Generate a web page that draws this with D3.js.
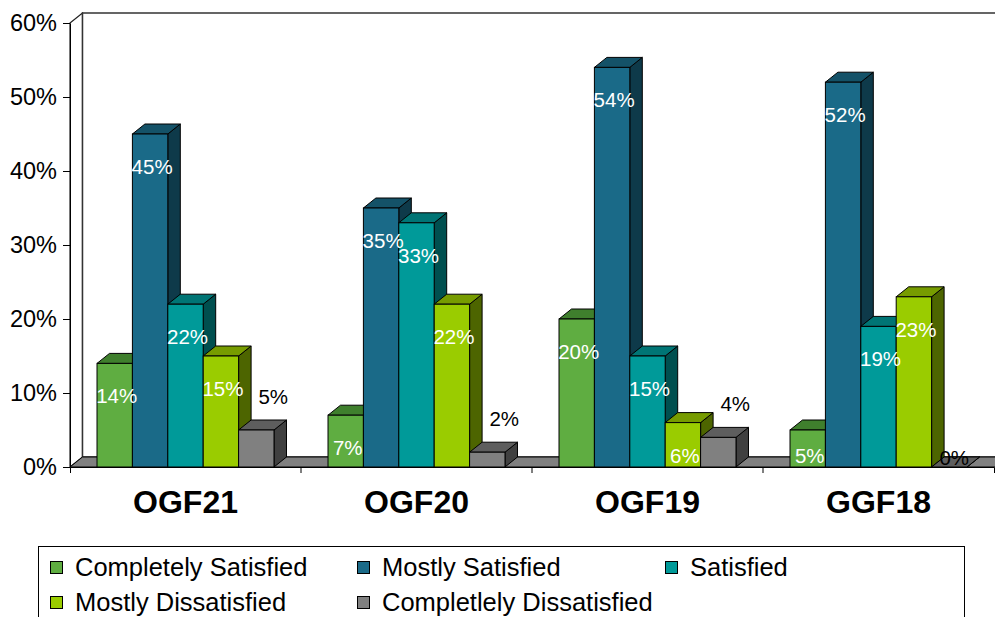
<!DOCTYPE html>
<html>
<head>
<meta charset="utf-8">
<script src="https://cdn.jsdelivr.net/npm/d3@7"></script>
<style>
  body { margin: 0; background: #fff; }
  svg { display: block; font-family: "Liberation Sans", Arial, sans-serif; }
</style>
</head>
<body>
<svg id="chart" width="995" height="617"></svg>
<script>
//Chart data, values in percent
const categories = ["OGF21", "OGF20", "OGF19", "GGF18"];
const seriesNames = ["Completely Satisfied", "Mostly Satisfied", "Satisfied", "Mostly Dissatisfied", "Completlely Dissatisfied"];
const completelySatisfied = [14, 7, 20, 5];
const mostlySatisfied = [45, 35, 54, 52];
const satisfied = [22, 33, 15, 19];
const mostlyDissatisfied = [15, 22, 6, 23];
const completelyDissatisfied = [5, 2, 4, 0];
const yTicks = [0, 10, 20, 30, 40, 50, 60];

const seriesValues = [completelySatisfied, mostlySatisfied, satisfied, mostlyDissatisfied, completelyDissatisfied];

//Colors per series: front face, top face, side face
const frontColors = ["#5fad41", "#1a6a88", "#009a99", "#9acc00", "#808080"];
const topColors = ["#3f7f2d", "#145268", "#007575", "#779c00", "#5e5e5e"];
const sideColors = ["#2f5f22", "#0e3a4a", "#004f4f", "#4d6500", "#404040"];

//3D depth offset
const DX = 12.5, DY = -10;

const svg = d3.select("#chart");

const x0 = d3.scaleBand()
    .domain(categories)
    .range([70, 994]);

const x1 = d3.scaleBand()
    .domain(d3.range(seriesNames.length))
    .range([0, x0.bandwidth()])
    .paddingInner(0)
    .paddingOuter(0.763);

const y = d3.scaleLinear()
    .domain([0, 60])
    .range([467, 23]);

const y0 = y(0), yTop = y(60);
const xL = x0.range()[0], xR = x0.range()[1];

//Walls (side wall + back wall)
svg.append("polygon")
    .attr("points", [[xL, yTop], [xL + DX, yTop + DY], [xL + DX, y0 + DY], [xL, y0]].join(" "))
    .attr("fill", "#fff")
    .attr("stroke", "#222")
    .attr("stroke-width", 1.2);

svg.append("rect")
    .attr("x", xL + DX)
    .attr("y", yTop + DY)
    .attr("width", xR - xL + 20)
    .attr("height", y0 - yTop)
    .attr("fill", "#fff")
    .attr("stroke", "#333")
    .attr("stroke-width", 1.5);

//Floor
svg.append("polygon")
    .attr("points", [[xL, y0], [xR + 20, y0], [xR + 20 + DX, y0 + DY], [xL + DX, y0 + DY]].join(" "))
    .attr("fill", "#808080")
    .attr("stroke", "#000");

//Build bars list from the series arrays
var bars = [];
categories.forEach(function(c, ci) {
    seriesValues.forEach(function(vals, si) {
        bars.push({cat: c, s: si, v: vals[ci]});
    });
});

var barG = svg.append("g");
bars.forEach(function(d) {
    const bx = x0(d.cat) + x1(d.s);
    const w = x1.bandwidth();
    const yt = y(d.v);
    const g = barG.append("g");

    //side face
    g.append("polygon")
        .attr("points", [[bx + w, yt], [bx + w + DX, yt + DY], [bx + w + DX, y0 + DY], [bx + w, y0]].join(" "))
        .attr("fill", sideColors[d.s])
        .attr("stroke", "#000");
    //top face
    g.append("polygon")
        .attr("points", [[bx, yt], [bx + w, yt], [bx + w + DX, yt + DY], [bx + DX, yt + DY]].join(" "))
        .attr("fill", topColors[d.s])
        .attr("stroke", "#000");
    //front face
    g.append("rect")
        .attr("x", bx)
        .attr("y", yt)
        .attr("width", w)
        .attr("height", y0 - yt)
        .attr("fill", frontColors[d.s])
        .attr("stroke", "#000");
});

//Value labels
svg.append("g").selectAll("text")
    .data(bars)
    .enter().append("text")
    .attr("text-anchor", "middle")
    .attr("font-size", 20.5)
    .attr("fill", function(d) { return d.s == 4 ? "#000" : "#fff"; })
    .attr("x", function(d) {
        const cx = x0(d.cat) + x1(d.s) + x1.bandwidth() / 2;
        if (d.s == 4) return cx + (d.v > 0 ? 17 : 5);
        return cx + 2;
    })
    .attr("y", function(d) {
        const yt = y(d.v);
        if (d.s == 4) return (d.v > 0 ? yt - 33 : y0 - 9) + 7;
        return Math.min(yt + 33, y0 - 11) + 7;
    })
    .text(function(d) { return d.v + "%"; });

//Y axis
var yAxis = svg.append("g")
    .attr("transform", "translate(" + xL + ",0)")
    .call(d3.axisLeft(y)
        .tickValues(yTicks)
        .tickFormat(function(d) { return d + "%"; })
        .tickSize(7)
        .tickSizeOuter(0)
        .tickPadding(6));
yAxis.selectAll("text")
    .attr("font-size", 23.5)
    .attr("fill", "#000")
    .attr("font-family", "Liberation Sans, Arial, sans-serif");
yAxis.selectAll("line, path").attr("stroke", "#000");

//X axis: front edge, boundary ticks and bold labels
var xAxis = svg.append("g")
    .attr("transform", "translate(0," + y0 + ")")
    .call(d3.axisBottom(x0).tickSize(0).tickSizeOuter(6).tickPadding(23));
xAxis.select(".domain").attr("stroke", "#000");
xAxis.selectAll("text")
    .attr("font-size", 32)
    .attr("font-weight", "bold")
    .attr("fill", "#000")
    .attr("font-family", "Liberation Sans, Arial, sans-serif");
xAxis.selectAll(".bound")
    .data(categories.slice(1))
    .enter().append("line")
    .attr("class", "bound")
    .attr("x1", function(d) { return x0(d); })
    .attr("x2", function(d) { return x0(d); })
    .attr("y1", 0)
    .attr("y2", 6)
    .attr("stroke", "#000");

//Legend
const legendCols = [50, 357, 665];
const legendRows = [567, 602];
var legend = svg.append("g");
legend.append("rect")
    .attr("x", 38.5)
    .attr("y", 546.5)
    .attr("width", 926)
    .attr("height", 120)
    .attr("fill", "#fff")
    .attr("stroke", "#000");

seriesNames.forEach(function(name, i) {
    const lx = legendCols[i % 3], ly = legendRows[Math.floor(i / 3)];
    legend.append("rect")
        .attr("x", lx + 0.5)
        .attr("y", ly - 6 + 0.5)
        .attr("width", 12)
        .attr("height", 12)
        .attr("fill", frontColors[i])
        .attr("stroke", "#000");
    legend.append("text")
        .attr("x", lx + 25)
        .attr("y", ly + 9)
        .attr("font-size", 25.5)
        .attr("fill", "#000")
        .text(name);
});
</script>
</body>
</html>
